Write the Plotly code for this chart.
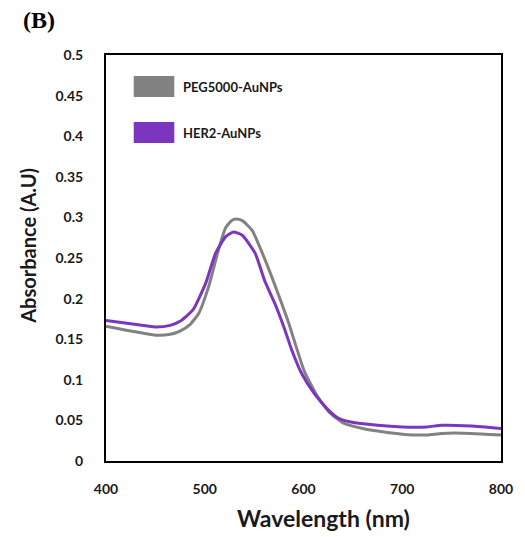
import plotly.graph_objects as go

# ---- data ----
peg_wavelength = [400, 425, 450, 465, 475, 485, 494, 504, 513, 521, 527, 532, 538, 548,
                  561, 574, 585, 592, 601, 613, 626, 640, 660, 680, 700, 725, 740, 770, 800]
peg_absorbance = [0.166, 0.160, 0.155, 0.156, 0.160, 0.168, 0.182, 0.215, 0.256, 0.287,
                  0.296, 0.298, 0.296, 0.284, 0.248, 0.207, 0.170, 0.143, 0.110, 0.082,
                  0.060, 0.047, 0.040, 0.036, 0.033, 0.032, 0.034, 0.034, 0.032]

her2_wavelength = [400, 425, 450, 465, 475, 488, 501, 511, 521, 529, 538, 551, 561, 571,
                   581, 588, 598, 611, 625, 635, 648, 675, 700, 725, 740, 770, 800]
her2_absorbance = [0.173, 0.169, 0.165, 0.167, 0.172, 0.186, 0.219, 0.256, 0.276, 0.282,
                   0.278, 0.256, 0.221, 0.194, 0.162, 0.137, 0.108, 0.083, 0.063, 0.053,
                   0.048, 0.044, 0.042, 0.042, 0.044, 0.043, 0.040]

series_names = ["PEG5000-AuNPs", "HER2-AuNPs"]
series_colors = ["#828282", "#7B35BE"]

x_ticks = [400, 500, 600, 700, 800]
y_ticks = [0, 0.05, 0.1, 0.15, 0.2, 0.25, 0.3, 0.35, 0.4, 0.45, 0.5]
y_tick_labels = ["0", "0.05", "0.1", "0.15", "0.2", "0.25", "0.3", "0.35", "0.4", "0.45", "0.5"]

x_title = "Wavelength (nm)"
y_title = "Absorbance (A.U)"

FONT = "Lato"

fig = go.Figure()
for xs, ys, name, color in [(peg_wavelength, peg_absorbance, series_names[0], series_colors[0]),
                            (her2_wavelength, her2_absorbance, series_names[1], series_colors[1])]:
    fig.add_trace(go.Scatter(x=xs, y=ys, mode="lines", name=name,
                             line=dict(color=color, width=3, shape="spline", smoothing=0.5),
                             showlegend=False))

# custom legend (patches + labels) in paper coordinates
W, H = 525, 537
L, R, T, B = 106, 20, 55, 76
pw, ph = W - L - R, H - T - B

def px2paper(x, y):
    return (x - L) / pw, (H - B - y) / ph

legend_rows = [(76, 97), (122, 143)]
for (y0, y1), name, color in zip(legend_rows, series_names, series_colors):
    x0p, y0p = px2paper(134, y1)
    x1p, y1p = px2paper(175, y0)
    fig.add_shape(type="rect", xref="paper", yref="paper", x0=x0p, x1=x1p, y0=y0p, y1=y1p,
                  fillcolor=color, line=dict(width=0))
    tx, ty = px2paper(182, (y0 + y1) / 2)
    fig.add_annotation(xref="paper", yref="paper", x=tx, y=ty, text="<b>%s</b>" % name,
                       showarrow=False, xanchor="left", yanchor="middle",
                       font=dict(family=FONT, size=13, color="#1a1a1a"))

# panel label
fig.add_annotation(xref="paper", yref="paper", x=px2paper(20, 0)[0], y=px2paper(0, 20)[1],
                   text="<b>(B)</b>", showarrow=False, xanchor="left", yanchor="middle",
                   font=dict(family="Liberation Serif", size=24, color="black"))

# axis titles (placed as in the reference)
ax, ay = px2paper(326, 518)
fig.add_annotation(xref="paper", yref="paper", x=ax, y=ay, text="<b>%s</b>" % x_title,
                   showarrow=False, xanchor="center", yanchor="middle",
                   font=dict(family=FONT, size=23, color="#1a1a1a"))
bx, by = px2paper(27, 246)
fig.add_annotation(xref="paper", yref="paper", x=bx, y=by, text="<b>%s</b>" % y_title,
                   showarrow=False, xanchor="center", yanchor="middle", textangle=-90,
                   font=dict(family=FONT, size=20, color="#1a1a1a"))

fig.update_layout(
    width=W, height=H,
    margin=dict(l=L, r=R, t=T, b=B),
    paper_bgcolor="white", plot_bgcolor="white",
    font=dict(family=FONT, color="#1a1a1a"),
)
fig.update_xaxes(range=[400, 800], tickvals=x_ticks, ticks="", showgrid=False, zeroline=False,
                 showline=True, linecolor="black", linewidth=2, mirror=True,
                 tickfont=dict(family=FONT, size=14, weight="bold"), ticklabelstandoff=14)
fig.update_yaxes(range=[0, 0.5], tickvals=y_ticks, ticktext=y_tick_labels, ticks="", showgrid=False,
                 zeroline=False, showline=True, linecolor="black", linewidth=2, mirror=True,
                 tickfont=dict(family=FONT, size=14, weight="bold"), ticklabelstandoff=18)

fig.write_html("out.html")
